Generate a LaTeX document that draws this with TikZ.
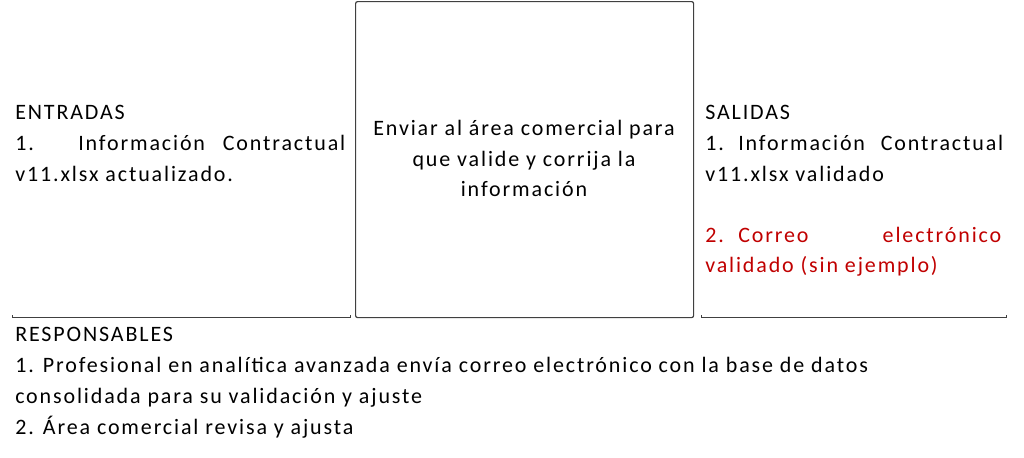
\documentclass[tikz,border=0pt]{standalone}
\usepackage{fontspec}
\setmainfont{Carlito}[LetterSpace=8.5]
\definecolor{boxgray}{HTML}{404040}
\definecolor{redtxt}{HTML}{C00000}
\begin{document}
\begin{tikzpicture}[x=0.75pt,y=-0.75pt,
  txt/.style={anchor=base west,inner sep=0pt,font=\fontsize{16.5}{19}\selectfont},
  ctxt/.style={anchor=base,inner sep=0pt,font=\fontsize{16.5}{19}\selectfont},
  rule/.style={draw=boxgray,line width=0.75pt}]
\useasboundingbox (0,0) rectangle (1024,457);
% central process box
\node[draw=boxgray,line width=0.9pt,rounded corners=1.5pt,minimum width=338*0.75pt,minimum height=316*0.75pt,inner sep=0pt,anchor=north west] (proc) at (355,1) {};
% bottom rules of side columns
\draw[rule] (12,315) -- (12,317) -- (350,317) -- (350,315);
\draw[rule] (701,315) -- (701,317) -- (1006,317) -- (1006,315);
% ENTRADAS
\node[txt] (e1) at (15,119) {ENTRADAS};
\node[txt] (e2) at (15,150) {\makebox[247.5pt][l]{\makebox[47.25pt][l]{1.}Información\hfill Contractual}};
\node[txt] (e3) at (15,181) {v11.xlsx actualizado.};
% centre text
\node[ctxt] (c1) at (524,135) {Enviar al área comercial para};
\node[ctxt] (c2) at (524,166) {que valide y corrija la};
\node[ctxt] (c3) at (524,196) {información};
% SALIDAS
\node[txt] (s1) at (705,119) {SALIDAS};
\node[txt] (s2) at (705,150) {\makebox[223.5pt][l]{\makebox[24.75pt][l]{1.}Información\hfill Contractual}};
\node[txt] (s3) at (705,181) {v11.xlsx validado};
\node[txt,text=redtxt] (s4) at (705,242) {\makebox[222pt][l]{\makebox[24.75pt][l]{2.}Correo\hfill electrónico}};
\node[txt,text=redtxt] (s5) at (705,272) {validado (sin ejemplo)};
% RESPONSABLES
\node[txt] (r1) at (15,341) {RESPONSABLES};
\node[txt] (r2) at (15,372) {1. Profesional en analítica avanzada envía correo electrónico con la base de datos};
\node[txt] (r3) at (15,403) {consolidada para su validación y ajuste};
\node[txt] (r4) at (15,434) {2. Área comercial revisa y ajusta};
\end{tikzpicture}
\end{document}
